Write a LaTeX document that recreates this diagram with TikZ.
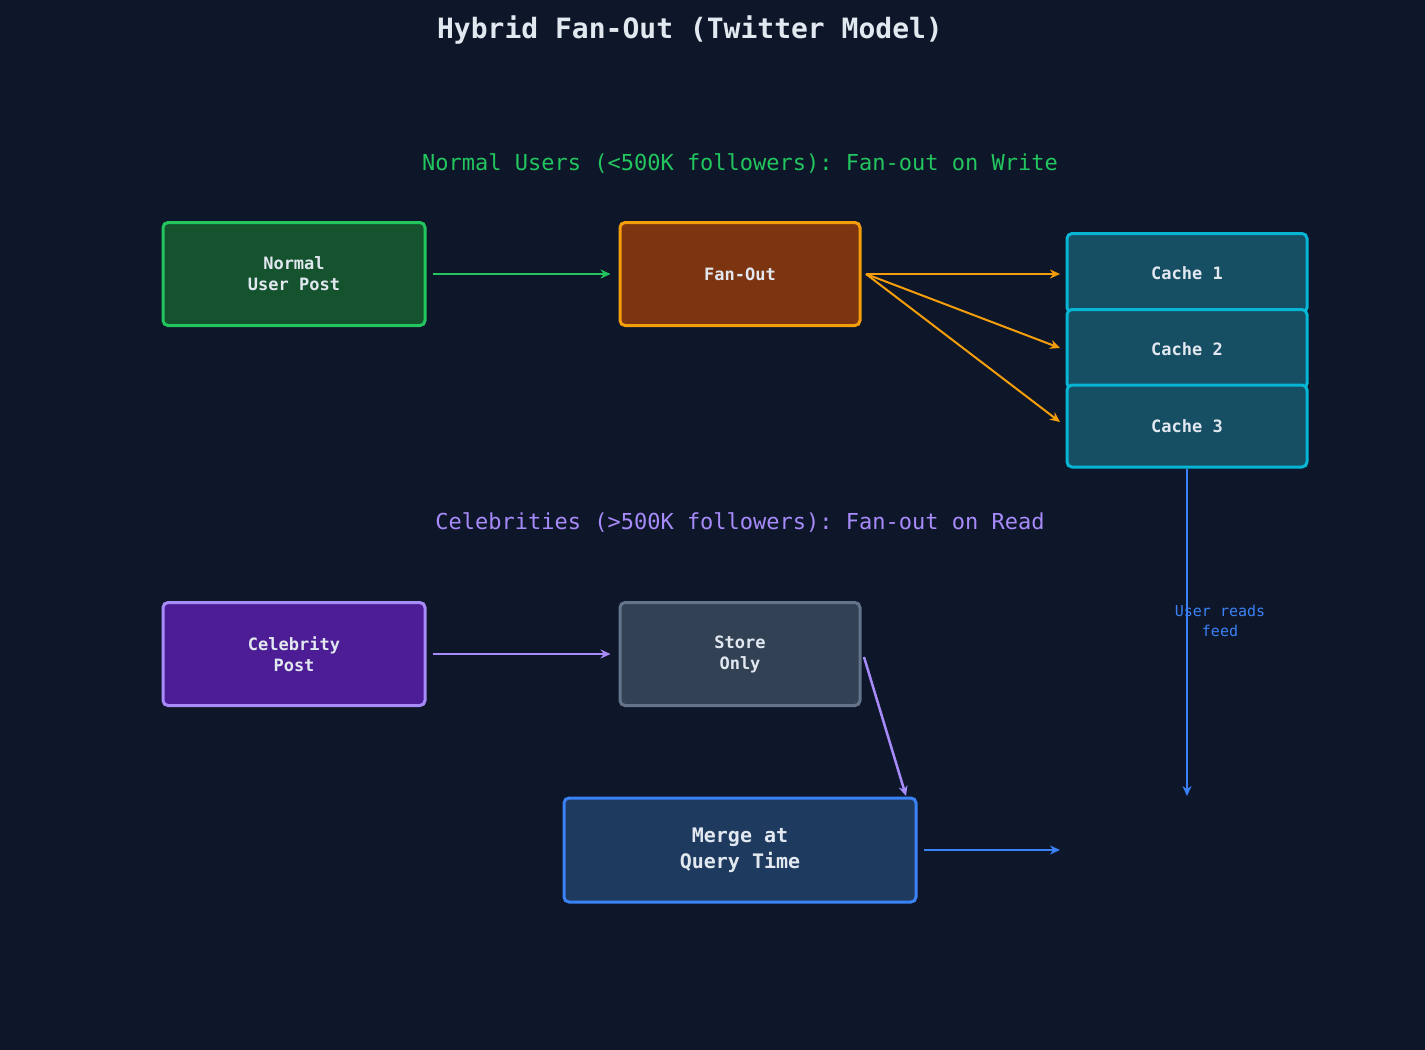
\documentclass[tikz,border=0pt]{standalone}
\usepackage{fontspec}
\setmonofont{DejaVu Sans Mono}
\usetikzlibrary{arrows.meta}
\definecolor{bg}{HTML}{0E1629}
\definecolor{txt}{HTML}{E2E8F0}
\definecolor{gF}{HTML}{15532E}\definecolor{gB}{HTML}{22C55E}
\definecolor{oF}{HTML}{7C3510}\definecolor{oB}{HTML}{F59E0B}
\definecolor{cF}{HTML}{164E63}\definecolor{cB}{HTML}{06B6D4}
\definecolor{pF}{HTML}{4C1D95}\definecolor{pB}{HTML}{A78BFA}
\definecolor{sF}{HTML}{334155}\definecolor{sB}{HTML}{64748B}
\definecolor{bF}{HTML}{1E3A5F}\definecolor{bB}{HTML}{3B82F6}
\begin{document}
\begin{tikzpicture}[x=1pt,y=-1pt,font=\ttfamily,
  box/.style={draw,line width=3pt,rounded corners=5pt,text=txt,font=\ttfamily\bfseries\fontsize{17}{21}\selectfont,align=center,inner sep=0pt},
  arr/.style={line width=2.5pt,-{Stealth[length=10pt,width=9pt]}}]
\fill[bg] (0,0) rectangle (1425,1050);
\useasboundingbox (0,0) rectangle (1425,1050);
\node[text=txt,font=\ttfamily\bfseries\fontsize{28}{32}\selectfont] (title) at (690,30) {Hybrid Fan-Out (Twitter Model)};
\node[text=gB,font=\ttfamily\fontsize{22}{26}\selectfont] (s1) at (740,164) {Normal Users (<500K followers): Fan-out on Write};
\node[text=pB,font=\ttfamily\fontsize{22}{26}\selectfont] (s2) at (740,523) {Celebrities (>500K followers): Fan-out on Read};
\node[box,fill=gF,draw=gB,minimum width=262pt,minimum height=103pt] (nup) at (294,274) {Normal\\User Post};
\node[box,fill=oF,draw=oB,minimum width=240pt,minimum height=103pt] (fo) at (740,274) {Fan-Out};
\node[box,fill=cF,draw=cB,minimum width=240pt,minimum height=79pt] (c1) at (1187,273) {Cache 1};
\node[box,fill=cF,draw=cB,minimum width=240pt,minimum height=79pt] (c2) at (1187,349) {Cache 2};
\node[box,fill=cF,draw=cB,minimum width=240pt,minimum height=82pt] (c3) at (1187,426) {Cache 3};
\node[box,fill=pF,draw=pB,minimum width=262pt,minimum height=103pt] (cp) at (294,654) {Celebrity\\Post};
\node[box,fill=sF,draw=sB,minimum width=240pt,minimum height=103pt] (so) at (740,654) {Store\\Only};
\node[box,fill=bF,draw=bB,minimum width=352pt,minimum height=104pt,font=\ttfamily\bfseries\fontsize{20}{26}\selectfont] (mg) at (740,850) {Merge at\\Query Time};
\coordinate (fo1) at (866,274);
\coordinate (t2) at (1060,348);\coordinate (t3) at (1060,422);\coordinate (t1) at (1060,274);
\coordinate (rd) at (1187,796);\coordinate (end) at (1060,850);
\draw[arr,gB] ([xshift=6pt]nup.east) -- ([xshift=-8pt]fo.west);
\draw[arr,oB,line width=2pt] (fo1) -- (t1);
\draw[arr,oB,line width=2pt] (fo1) -- (t2);
\draw[arr,oB,line width=2pt] (fo1) -- (t3);
\draw[arr,pB] ([xshift=6pt]cp.east) -- ([xshift=-8pt]so.west);
\draw[arr,pB] (864,657) -- (906,796);
\draw[arr,bB] (c3.south) -- (rd);
\draw[arr,bB] ([xshift=6pt]mg.east) -- (end);
\node[text=bB,font=\ttfamily\fontsize{15}{20}\selectfont,align=center] (lbl) at (1220,621) {User reads\\feed};
\end{tikzpicture}
\end{document}
